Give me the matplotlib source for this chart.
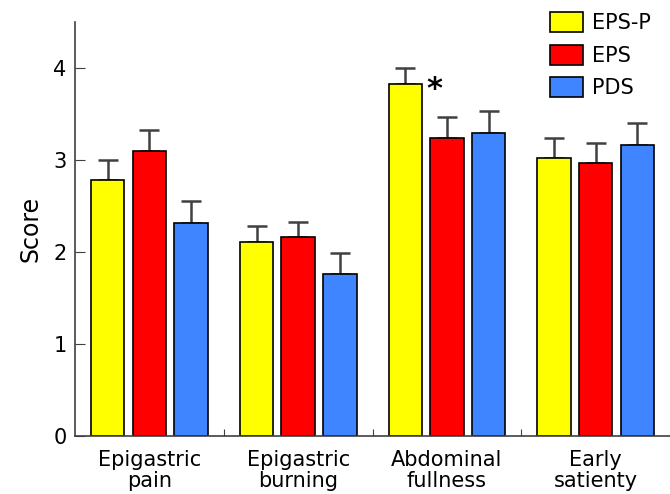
import matplotlib.pyplot as plt
import numpy as np

categories = ['Epigastric\npain', 'Epigastric\nburning', 'Abdominal\nfullness', 'Early\nsatienty']
groups = ['EPS-P', 'EPS', 'PDS']
eps_p = [2.78, 2.11, 3.83, 3.02]
eps_p_err = [0.22, 0.18, 0.17, 0.22]
eps = [3.10, 2.17, 3.24, 2.97]
eps_err = [0.23, 0.16, 0.23, 0.22]
pds = [2.32, 1.76, 3.30, 3.17]
pds_err = [0.24, 0.23, 0.23, 0.23]
colors = ['#ffff00', '#ff0000', '#3f85ff']

fig, ax = plt.subplots(figsize=(6.7, 4.94), dpi=100)
fig.subplots_adjust(left=0.112, right=1.0, top=0.955, bottom=0.117)

x = np.arange(len(categories)) + 0.5
width = 0.225
offset = 0.28
series = [(eps_p, eps_p_err), (eps, eps_err), (pds, pds_err)]
for i, (vals, errs) in enumerate(series):
    pos = x + (i - 1) * offset
    ax.bar(pos, vals, width, color=colors[i], edgecolor='black', linewidth=1.2,
           label=groups[i], zorder=2)
    ax.errorbar(pos, vals, yerr=[np.zeros(len(vals)), errs], fmt='none',
                ecolor='#404040', elinewidth=1.8, capsize=7, capthick=1.8, zorder=1)

ax.text(x[2] - offset + 0.14, eps_p[2] - 0.06, '*', fontsize=22, fontweight='bold',
        ha='left', va='center')

ax.set_xlim(0, 4)
ax.set_ylim(0, 4.5)
ax.set_yticks([0, 1, 2, 3, 4])
ax.set_xticks([1, 2, 3])
ax.set_xticklabels([])
ax.set_xticks(x, minor=True)
ax.set_xticklabels(categories, minor=True, fontsize=15, linespacing=1.05)
ax.tick_params(axis='x', which='minor', length=0, pad=10)
ax.tick_params(axis='x', which='major', direction='in', length=5, color='#404040')
ax.tick_params(axis='y', direction='in', length=7, labelsize=15, color='#404040', pad=6)
ax.set_ylabel('Score', fontsize=17, labelpad=8)
for s in ['top', 'right']:
    ax.spines[s].set_visible(False)
for s in ['left', 'bottom']:
    ax.spines[s].set_color('#404040')
    ax.spines[s].set_linewidth(1.2)

ax.legend(loc='upper right', bbox_to_anchor=(1.0, 1.07), frameon=False, fontsize=15,
          handlelength=1.6, handleheight=1.1, labelspacing=0.55, handletextpad=0.45)

fig.savefig('out.png')
